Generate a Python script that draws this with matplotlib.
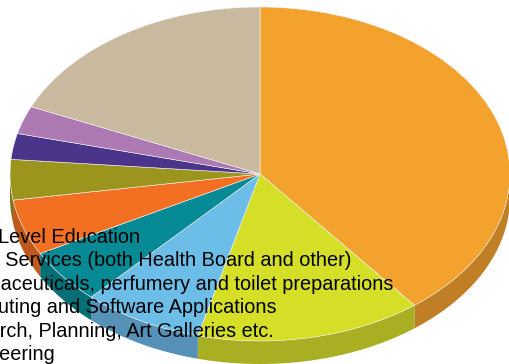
import matplotlib
matplotlib.use("Agg")
import matplotlib.pyplot as plt
import numpy as np

# sector shares in %, clockwise from twelve o'clock
shares = [39.4, 14.6, 7.8, 5.3, 5.4, 3.9, 2.5, 2.7, 18.4]
top_colors = ["#F4A22E", "#D6DF28", "#6CBDE7", "#068B96", "#F37022",
              "#9B951D", "#4A358A", "#AC79B2", "#C9BA9F"]
side_colors = ["#C07F24", "#A9AF22", "#5692B8", "#046E77", "#C0581B",
               "#7A7517", "#3A2A6D", "#885F8C", "#9F937D"]

legend_labels = [
    "Third Level Education",
    "Health Services (both Health Board and other)",
    "Pharmaceuticals, perfumery and toilet preparations",
    "Computing and Software Applications",
    "Research, Planning, Art Galleries etc.",
    "Engineering",
]

W, H = 509, 364
fig = plt.figure(figsize=(W / 100, H / 100), dpi=100)
ax = fig.add_axes([0, 0, 1, 1])

wedges, _ = ax.pie(shares, colors=top_colors, startangle=90, counterclock=False,
                   radius=1, wedgeprops=dict(linewidth=0.4, edgecolor="#f4f4f4"))
for w in wedges:
    w.set_zorder(2)

# squash the disc into an ellipse and give it a rim
cx, cy, rx, ry = 260, 174, 250, 167
depth = 23 / ry
ax.set_aspect("auto")
ax.set_xlim(-cx / rx, (W - cx) / rx)
ax.set_ylim((cy - H) / ry, cy / ry)
ax.axis("off")

for w, col in zip(wedges, side_colors):
    t = np.radians(np.linspace(w.theta1, w.theta2, 300))
    t = t[np.sin(t) <= 0]
    if len(t) < 2:
        continue
    xs = np.cos(t)
    ys = np.sin(t)
    px = np.concatenate([xs, xs[::-1]])
    py = np.concatenate([ys, ys[::-1] - depth])
    ax.fill(px, py, color=col, lw=0, zorder=1)

# legend text, its left part runs off the canvas
baseline0, step = 243, 23.4
text_left = [-53, -58, -58, -55, -58, -52]
for i, lab in enumerate(legend_labels):
    fig.text(text_left[i] / W, 1 - (baseline0 + i * step) / H, lab, fontsize=14.3,
             family="Liberation Sans", va="baseline", ha="left", color="black")

fig.savefig("out.png", dpi=100)
